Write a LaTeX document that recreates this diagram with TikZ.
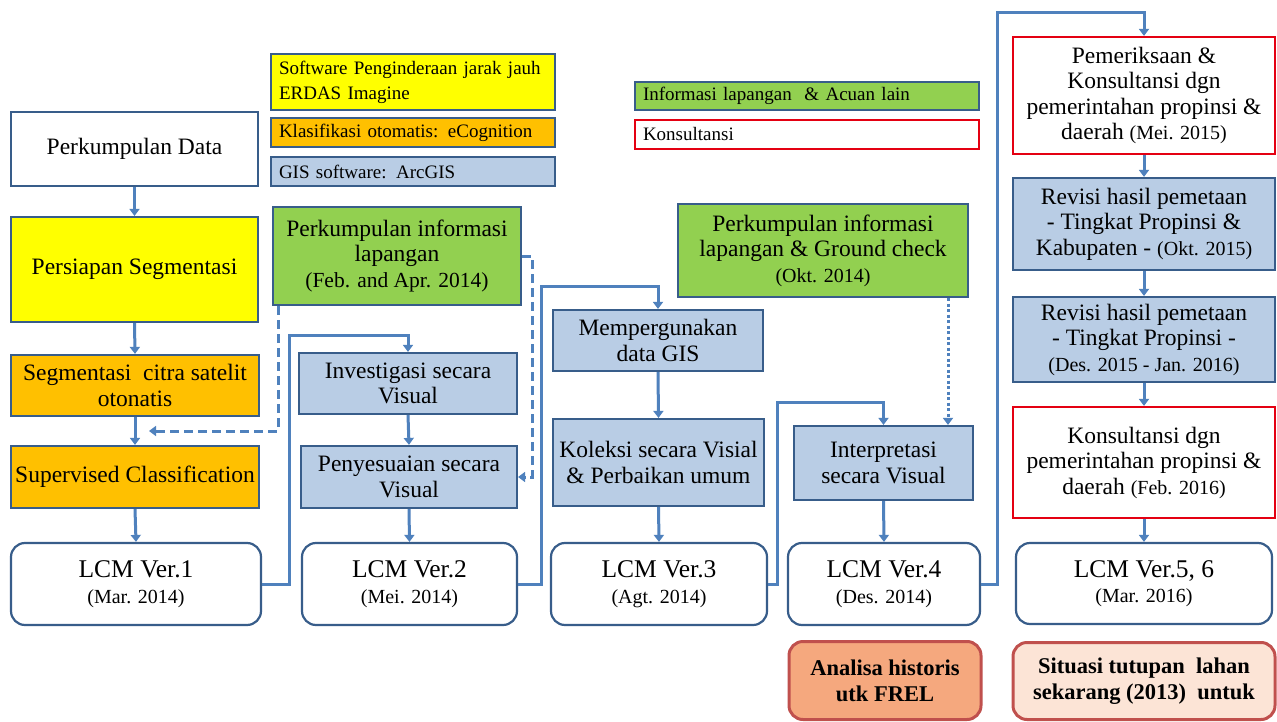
\documentclass[tikz,border=0pt]{standalone}
\usepackage{fontspec}
\setmainfont{Liberation Serif}
\usetikzlibrary{arrows.meta}

\definecolor{flowc}{RGB}{79,129,189}
\definecolor{edgec}{RGB}{56,93,138}
\definecolor{ylw}{RGB}{255,255,0}
\definecolor{amber}{RGB}{255,192,0}
\definecolor{leaf}{RGB}{146,208,80}
\definecolor{skyb}{RGB}{185,205,229}
\definecolor{redc}{RGB}{228,0,18}
\definecolor{salmon}{RGB}{245,168,126}
\definecolor{peach}{RGB}{252,228,214}
\definecolor{brick}{RGB}{192,80,77}

\newcommand\mainf{\fontsize{23.5}{25.5}\selectfont}
\newcommand\datef{\fontsize{20}{24}\selectfont}
\newcommand\legf{\fontsize{19}{25}\selectfont\hyphenpenalty=10000 }
\newcommand\lcmf{\fontsize{25.5}{29}\selectfont}
\newcommand\boldf{\fontsize{22.5}{26}\selectfont\bfseries}

\begin{document}
\begin{tikzpicture}[x=1pt,y=-1pt,
  base/.style={draw=edgec, line width=2.2pt, inner sep=0pt, align=center, text=black, font=\mainf},
  plainbox/.style={base, fill=white},
  yelbox/.style={base, fill=ylw},
  ambbox/.style={base, fill=amber},
  grnbox/.style={base, fill=leaf},
  blubox/.style={base, fill=skyb},
  konsbox/.style={base, draw=redc, fill=white},
  lcmbox/.style={base, fill=white, rounded corners=14pt},
  resbox/.style={base, draw=brick, line width=3pt, rounded corners=14pt, font=\boldf},
  legbox/.style={base, font=\legf, align=left},
  flowline/.style={draw=flowc, line width=3pt, -{Triangle[width=10pt,length=7pt]}},
  dashline/.style={flowline, dash pattern=on 9pt off 5pt},
  dotline/.style={flowline, dash pattern=on 3pt off 2.5pt}
]
\useasboundingbox (0,0) rectangle (1277,722);
\fill[white] (0,0) rectangle (1277,722);

% legend
\node[legbox, fill=ylw, minimum width=284pt, minimum height=56pt, text width=268pt] (lsoft) at (413,82)
  {Software Penginderaan jarak jauh\\ERDAS Imagine};
\node[legbox, fill=amber, minimum width=284pt, minimum height=29pt, text width=268pt] (lklas) at (413,132.5)
  {Klasifikasi otomatis: eCognition};
\node[legbox, fill=skyb, minimum width=284pt, minimum height=29pt, text width=268pt] (lgis) at (413,171.5)
  {GIS software: ArcGIS};
\node[legbox, fill=leaf, minimum width=344pt, minimum height=28pt, text width=328pt] (linfo) at (807,96)
  {Informasi lapangan\ \ \& Acuan lain};
\node[legbox, draw=redc, fill=white, minimum width=344pt, minimum height=29pt, text width=328pt] (lkons) at (807,134.5)
  {Konsultansi};

% column 1: automatic classification
\node[plainbox, minimum width=247pt, minimum height=74pt] (perk) at (134.5,149) {Perkumpulan Data};
\node[yelbox, minimum width=247pt, minimum height=105pt] (prep) at (134.5,269.5) {Persiapan Segmentasi};
\node[ambbox, minimum width=248pt, minimum height=61pt] (segm) at (135,385.5) {Segmentasi\enspace citra satelit\\otonatis};
\node[ambbox, minimum width=248pt, minimum height=62pt] (superv) at (135,477) {Supervised Classification};
\node[lcmbox, minimum width=250pt, minimum height=82pt] (lcm1) at (136,584)
  {{\lcmf LCM Ver.1}\\{\datef (Mar. 2014)}};

% column 2
\node[grnbox, minimum width=248pt, minimum height=98pt] (feb) at (397,256)
  {Perkumpulan informasi\\lapangan\\{\fontsize{21.5}{26}\selectfont (Feb. and Apr. 2014)}};
\node[blubox, minimum width=218pt, minimum height=61pt] (invest) at (408,383.5) {Investigasi secara\\Visual};
\node[blubox, minimum width=216pt, minimum height=62pt] (penyes) at (409,477) {Penyesuaian secara\\Visual};
\node[lcmbox, minimum width=215pt, minimum height=82pt] (lcm2) at (409.5,584)
  {{\lcmf LCM Ver.2}\\{\datef (Mei. 2014)}};

% column 3
\node[blubox, minimum width=210pt, minimum height=61pt] (memp) at (658,340.5) {Mempergunakan\\data GIS};
\node[blubox, minimum width=211pt, minimum height=87pt] (kolek) at (658.5,462.5) {Koleksi secara Visial\\\& Perbaikan umum};
\node[lcmbox, minimum width=216pt, minimum height=82pt] (lcm3) at (659,584)
  {{\lcmf LCM Ver.3}\\{\datef (Agt. 2014)}};
\node[grnbox, minimum width=290pt, minimum height=93pt] (okt) at (823,250.5)
  {Perkumpulan informasi\\lapangan \& Ground check\\{\datef (Okt. 2014)}};

% column 4
\node[blubox, minimum width=179pt, minimum height=74pt] (interp) at (883.5,463) {Interpretasi\\secara Visual};
\node[lcmbox, minimum width=192pt, minimum height=82pt] (lcm4) at (884,584)
  {{\lcmf LCM Ver.4}\\{\datef (Des. 2014)}};
\node[resbox, fill=salmon, minimum width=192pt, minimum height=78pt] (hist) at (885,680.5)
  {Analisa historis\\utk FREL};

% column 5
\node[konsbox, minimum width=262pt, minimum height=117pt] (pem) at (1144,95.5)
  {Pemeriksaan \&\\Konsultansi dgn\\pemerintahan propinsi \&\\daerah {\datef (Mei. 2015)}};
\node[blubox, minimum width=262pt, minimum height=92pt] (rev1) at (1144,224)
  {Revisi hasil pemetaan\\- Tingkat Propinsi \&\\Kabupaten - {\datef (Okt. 2015)}};
\node[blubox, minimum width=262pt, minimum height=85pt] (rev2) at (1144,339.5)
  {Revisi hasil pemetaan\\- Tingkat Propinsi -\\{\datef (Des. 2015 - Jan. 2016)}};
\node[konsbox, minimum width=262pt, minimum height=111pt] (kons) at (1144,462.5)
  {Konsultansi dgn\\pemerintahan propinsi \&\\daerah {\datef (Feb. 2016)}};
\node[lcmbox, minimum width=256pt, minimum height=81pt] (lcm5) at (1144,583.5)
  {{\lcmf LCM Ver.5, 6}\\{\datef (Mar. 2016)}};
\node[resbox, fill=peach, minimum width=262pt, minimum height=77pt] (now) at (1144,681)
  {Situasi tutupan\ \ lahan\\sekarang (2013)\ \ untuk};

% vertical steps
\draw[flowline] (perk.south) -- (prep.north);
\draw[flowline] (prep.south) -- (segm.north);
\draw[flowline] (segm.south) -- (superv.north);
\draw[flowline] (superv.south) -- (lcm1.north);
\draw[flowline] (invest.south) -- (penyes.north);
\draw[flowline] (penyes.south) -- (lcm2.north);
\draw[flowline] (memp.south) -- (kolek.north);
\draw[flowline] (kolek.south) -- (lcm3.north);
\draw[flowline] (interp.south) -- (lcm4.north);
\draw[flowline] (pem.south) -- (rev1.north);
\draw[flowline] (rev1.south) -- (rev2.north);
\draw[flowline] (rev2.south) -- (kons.north);
\draw[flowline] (kons.south) -- (lcm5.north);

% hand-over from each version to the next stage
\coordinate (k1) at (289,335);
\coordinate (k2) at (541,286);
\coordinate (k3) at (777,402);
\coordinate (k4) at (997,13);
\draw[flowline] (lcm1.east) -| (k1) -| (invest.north);
\draw[flowline] (lcm2.east) -| (k2) -| (memp.north);
\draw[flowline] (lcm3.east) -| (k3) -| (interp.north);
\draw[flowline] (lcm4.east) -| (k4) -| (pem.north);

% field information feeds
\coordinate (d1) at (278,431);
\coordinate (d1end) at (149,431);
\draw[dashline] (feb.south west -| d1) -- (d1) -- (d1end);
\coordinate (d2) at (532,256);
\draw[dashline] (feb.east) -- (d2) |- (penyes.east);
\coordinate (d3) at (948,0);
\draw[dotline] (okt.south -| d3) -- (interp.north -| d3);
\end{tikzpicture}
\end{document}
